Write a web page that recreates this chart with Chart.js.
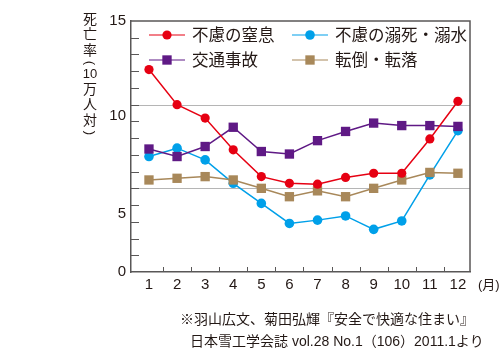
<!DOCTYPE html>
<html lang="ja">
<head>
<meta charset="utf-8">
<title>月別死亡率</title>
<script src="https://cdn.jsdelivr.net/npm/chart.js@4.4.1/dist/chart.umd.min.js"></script>
<style>
  html, body { margin: 0; padding: 0; background: #fff; }
  canvas { display: block; }
</style>
</head>
<body>
<canvas id="myChart" width="500" height="358"></canvas>
<script>
  "use strict";

  // data
  var months = [1, 2, 3, 4, 5, 6, 7, 8, 9, 10, 11, 12];
  var monthUnit = "(月)";
  var seriesNames = ["不慮の窒息", "不慮の溺死・溺水", "交通事故", "転倒・転落"];
  var choking = [12.1, 10.0, 9.2, 7.3, 5.7, 5.3, 5.25, 5.65, 5.9, 5.9, 7.95, 10.2];
  var drowning = [6.9, 7.4, 6.7, 5.3, 4.1, 2.9, 3.1, 3.35, 2.55, 3.05, 5.8, 8.45];
  var traffic = [7.35, 6.9, 7.5, 8.65, 7.2, 7.05, 7.85, 8.4, 8.9, 8.75, 8.75, 8.7];
  var falls = [5.5, 5.6, 5.7, 5.5, 5.0, 4.5, 4.85, 4.5, 5.0, 5.5, 5.95, 5.9];
  var yTickLabels = ["0", "5", "10", "15"];
  var yGridValues = [5, 10];
  var yTitle = "死亡率（10万人対）";
  var sourceLines = [
    "※羽山広文、菊田弘輝『安全で快適な住まい』",
    "日本雪工学会誌 vol.28 No.1（106）2011.1より"
  ];

  var FONT = '"Liberation Sans", "Noto Sans CJK JP", sans-serif';
  var INK = "#231815";
  var AXIS = "#595757";

  Chart.defaults.font.family = FONT;
  Chart.defaults.color = INK;

  function points(values) {
    return values.map(function (v, i) { return { x: months[i], y: v }; });
  }

  function series(i, values, color, style, radius, order) {
    return {
      label: seriesNames[i],
      data: points(values),
      borderColor: color,
      backgroundColor: color,
      borderWidth: 1.5,
      pointStyle: style,
      pointRadius: radius,
      pointBorderWidth: 0,
      pointHoverRadius: radius,
      tension: 0,
      order: order
    };
  }

  // grid lines, inner tick marks, frame, legend and free texts
  var decorations = {
    id: "decorations",
    beforeDatasetsDraw: function (chart) {
      var ctx = chart.ctx, a = chart.chartArea, ys = chart.scales.y;
      ctx.save();
      ctx.strokeStyle = "#b5b5b5";
      ctx.lineWidth = 1;
      yGridValues.forEach(function (v) {
        var py = Math.round(ys.getPixelForValue(v)) + 0.5;
        ctx.beginPath();
        ctx.moveTo(a.left, py);
        ctx.lineTo(a.right, py);
        ctx.stroke();
      });
      ctx.restore();
    },
    afterDraw: function (chart) {
      var ctx = chart.ctx, a = chart.chartArea;
      var xs = chart.scales.x, ys = chart.scales.y;
      ctx.save();

      // tick marks pointing into the plot
      ctx.strokeStyle = AXIS;
      ctx.lineWidth = 1;
      for (var v = 1; v < 15; v++) {
        var py = Math.round(ys.getPixelForValue(v)) + 0.5;
        ctx.beginPath();
        ctx.moveTo(a.left, py);
        ctx.lineTo(a.left + 8, py);
        ctx.stroke();
      }
      months.slice(1).forEach(function (m) {
        var px = Math.round(xs.getPixelForValue(m - 0.5)) + 0.5;
        ctx.beginPath();
        ctx.moveTo(px, a.bottom);
        ctx.lineTo(px, a.bottom - 5);
        ctx.stroke();
      });

      // top and right frame
      ctx.lineWidth = 1.5;
      ctx.beginPath();
      ctx.moveTo(a.left, a.top);
      ctx.lineTo(a.right, a.top);
      ctx.lineTo(a.right, a.bottom);
      ctx.stroke();

      // legend, two columns inside the plot
      var slots = [[149, 35], [292, 35], [149, 60], [292, 60]];
      ctx.font = "16.5px " + FONT;
      ctx.textBaseline = "middle";
      ctx.textAlign = "left";
      chart.data.datasets.forEach(function (ds, i) {
        var x = slots[i][0], y = slots[i][1];
        ctx.strokeStyle = ds.borderColor;
        ctx.lineWidth = 1.2;
        ctx.beginPath();
        ctx.moveTo(x, y);
        ctx.lineTo(x + 36, y);
        ctx.stroke();
        ctx.fillStyle = ds.backgroundColor;
        if (ds.pointStyle === "rect") {
          var s = ds.pointRadius * Math.SQRT1_2;
          ctx.fillRect(x + 18 - s, y - s, 2 * s, 2 * s);
        } else {
          ctx.beginPath();
          ctx.arc(x + 18, y, ds.pointRadius, 0, Math.PI * 2);
          ctx.fill();
        }
        ctx.fillStyle = INK;
        ctx.fillText(ds.label, x + 43, y + 1);
      });

      // vertical axis title, upright characters
      var tokens = yTitle.match(/[0-9]+|./g);
      var top = 12.5, cx = 90;
      ctx.textAlign = "center";
      tokens.forEach(function (t) {
        var h;
        if (t === "（" || t === "）") {
          h = 9;
          ctx.save();
          ctx.translate(cx, top + h / 2);
          ctx.rotate(Math.PI / 2);
          ctx.font = "13px " + FONT;
          ctx.fillText(t === "（" ? "(" : ")", 0, 0);
          ctx.restore();
        } else if (/[0-9]/.test(t)) {
          h = 15;
          ctx.font = "13px " + FONT;
          ctx.fillText(t, cx, top + h / 2);
        } else {
          h = 15.3;
          ctx.font = "14px " + FONT;
          ctx.fillText(t, cx, top + h / 2);
        }
        top += h;
      });

      // unit after the last month
      ctx.textAlign = "left";
      ctx.font = "13px " + FONT;
      ctx.fillText(monthUnit, 478, 285);

      // source note
      ctx.font = "14px " + FONT;
      ctx.fillText(sourceLines[0], 180, 320);
      ctx.fillText(sourceLines[1], 190, 342);

      ctx.restore();
    }
  };

  var canvas = document.getElementById("myChart");
  new Chart(canvas.getContext("2d"), {
    type: "line",
    data: {
      datasets: [
        series(0, choking, "#e60012", "circle", 4.6, 0),
        series(1, drowning, "#00a0e9", "circle", 4.8, 3),
        series(2, traffic, "#5f1985", "rect", 6.6, 1),
        series(3, falls, "#a8885a", "rect", 6.6, 2)
      ]
    },
    options: {
      responsive: false,
      animation: false,
      events: [],
      layout: { padding: { left: 0, right: 30, top: 21, bottom: 0 } },
      plugins: {
        legend: { display: false },
        tooltip: { enabled: false }
      },
      scales: {
        x: {
          type: "linear",
          min: 0.36,
          max: 12.43,
          afterFit: function (scale) { scale.height = 86; },
          afterBuildTicks: function (scale) {
            scale.ticks = months.map(function (m) { return { value: m }; });
          },
          grid: { display: false, drawTicks: false },
          border: { display: true, color: AXIS, width: 1.5 },
          ticks: {
            padding: 4,
            font: { size: 15 },
            color: INK,
            maxRotation: 0,
            autoSkip: false,
            callback: function (value) { return String(value); }
          }
        },
        y: {
          type: "linear",
          min: 0,
          max: 15,
          afterFit: function (scale) { scale.width = 131; },
          // labels sit where the original print put them
          afterBuildTicks: function (scale) {
            scale.ticks = [0, 3.45, 9.32, 15].map(function (v) { return { value: v }; });
          },
          grid: { display: false, drawTicks: false },
          border: { display: true, color: AXIS, width: 1.5 },
          ticks: {
            padding: 5,
            font: { size: 15 },
            color: INK,
            autoSkip: false,
            callback: function (value, index) { return yTickLabels[index]; }
          }
        }
      }
    },
    plugins: [decorations]
  });
</script>
</body>
</html>
